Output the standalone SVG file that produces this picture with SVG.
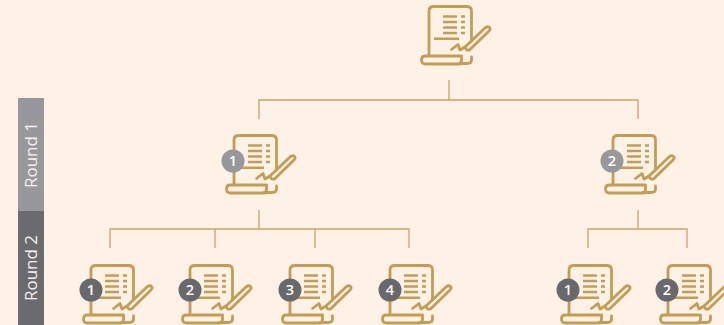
<svg xmlns="http://www.w3.org/2000/svg" width="724" height="325" viewBox="0 0 724 325">
<style>
.c{fill:none;stroke:#c8a566;stroke-width:1.300}
.i{fill:none;stroke:#c49d55;stroke-width:2.800;stroke-linejoin:round;stroke-linecap:round}
.t{fill:none;stroke:#c49d55;stroke-width:2.400}
.p{stroke-width:2.800}
.b{fill:#fff;font-family:"Open Sans",sans-serif;font-size:14.500px;font-weight:600;text-anchor:middle}
.r{fill:#f3f0ec;font-family:"Open Sans",sans-serif;font-size:17px;text-anchor:middle}
</style>
<defs>
<g id="doc">
<path class="i" d="M429 55V11Q429 6.500 434 6.500H466.500Q471.500 6.500 471.500 11V41M471.500 57V60Q471.500 63.500 467 63.500H459"/>
<path class="i" d="M460 64H425.500Q421.500 64 421.500 60Q421.500 56 425.500 56H460M461.500 56V60Q461.500 64 458 64"/>
<path class="t" d="M443 16.500H457M443 22H457M443 27.500H457M443 33H457M434 38.700H459"/>
<path class="t" d="M461 16.500H465M461 22H465M461 27.500H465M461 33H465"/>
<path class="i p" d="M465 47L485.500 27.500Q488 26 489.500 27.500T489 31L469.500 50Q466 51 465 47Z"/>
<path class="i p" d="M451.500 49.500L458 44.500L460 50L465 47"/>
</g>
</defs>
<rect width="724" height="325" fill="#fef1e6"/>
<g id="rounds">
<rect x="18" y="98" width="26" height="113" fill="#97989c"/>
<rect x="18" y="211" width="26" height="114" fill="#6a6b6f"/>
<text class="r" transform="translate(37 155) rotate(-90)">Round 1</text>
<text class="r" transform="translate(37 268) rotate(-90)">Round 2</text>
</g>
<g id="connectors">
<path class="c" d="M449 80V100M259 119V100H638V119"/>
<path class="c" d="M259 210V229M110 248V229H409V248M215 229V248M315 229V248"/>
<path class="c" d="M638 210V229M588 248V229H687V248"/>
</g>
<g id="top"><use href="#doc"/></g>
<g id="r1-1"><use href="#doc" x="-195" y="129"/><circle cx="233" cy="161" r="11.500" fill="#97989c"/><text class="b" x="233" y="166.300">1</text></g>
<g id="r1-2"><use href="#doc" x="184" y="129"/><circle cx="612" cy="161" r="11.500" fill="#97989c"/><text class="b" x="612" y="166.300">2</text></g>
<g id="r2-1"><use href="#doc" x="-338" y="259"/><circle cx="91" cy="290" r="11.500" fill="#68696c"/><text class="b" x="91" y="295.300">1</text></g>
<g id="r2-2"><use href="#doc" x="-239" y="259"/><circle cx="190" cy="290" r="11.500" fill="#68696c"/><text class="b" x="190" y="295.300">2</text></g>
<g id="r2-3"><use href="#doc" x="-139" y="259"/><circle cx="290" cy="290" r="11.500" fill="#68696c"/><text class="b" x="290" y="295.300">3</text></g>
<g id="r2-4"><use href="#doc" x="-39" y="259"/><circle cx="390" cy="290" r="11.500" fill="#68696c"/><text class="b" x="390" y="295.300">4</text></g>
<g id="r2-5"><use href="#doc" x="140" y="259"/><circle cx="568" cy="290" r="11.500" fill="#68696c"/><text class="b" x="568" y="295.300">1</text></g>
<g id="r2-6"><use href="#doc" x="239" y="259"/><circle cx="667" cy="290" r="11.500" fill="#68696c"/><text class="b" x="667" y="295.300">2</text></g>
</svg>
